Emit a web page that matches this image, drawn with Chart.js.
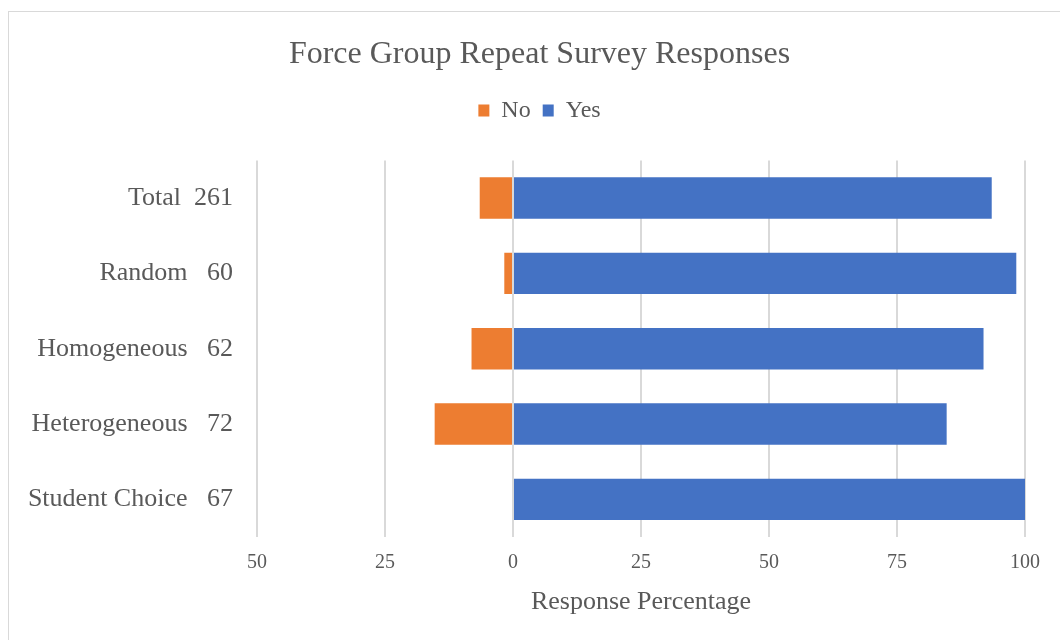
<!DOCTYPE html>
<html>
<head>
<meta charset="utf-8">
<script src="https://cdn.jsdelivr.net/npm/chart.js@4/dist/chart.umd.min.js"></script>
<style>
  html, body { margin: 0; padding: 0; background: #fff; overflow: hidden; }
  #wrap { position: relative; width: 1060px; height: 640px; }
  #frame { position: absolute; left: 8px; top: 11px; width: 1060px; height: 640px; border: 1px solid #d9d9d9; }
  #surveyChart { position: absolute; left: 0; top: 0; }
</style>
</head>
<body>
<div id="wrap">
  <div id="frame"></div>
  <canvas id="surveyChart" width="1060" height="640"></canvas>
</div>
<script>
// groups, group sizes and the gap between name and count
const groups = ['Total', 'Random', 'Homogeneous', 'Heterogeneous', 'Student Choice'];
const counts = [261, 60, 62, 72, 67];
const gaps = ['  ', '   ', '   ', '   ', '   '];

// response percentages (No is plotted to the left of zero)
const noPct = [-6.5, -1.7, -8.1, -15.3, 0];
const yesPct = [93.5, 98.3, 91.9, 84.7, 100];

// x axis ticks
const xTicks = [-50, -25, 0, 25, 50, 75, 100];

const labels = groups.map((g, i) => g + gaps[i] + counts[i]);

const serif = 'Liberation Serif, Times New Roman, serif';
const grey = '#595959';

// push the plot area down below the legend,
// and centre title + legend on the whole frame rather than the padded area
const headerFix = {
    id: 'headerFix',
    beforeInit(chart) {
        const fit = chart.legend.fit;
        chart.legend.fit = function () {
            fit.bind(chart.legend)();
            this.height += 28;
        };
    },
    afterLayout(chart) {
        [chart.titleBlock, chart.legend].forEach(b => {
            b.left += 27;
            b.right += 27;
        });
    }
};

const ctx = document.getElementById('surveyChart').getContext('2d');
const surveyChart = new Chart(ctx, {
    type: 'bar',
    data: {
        labels: labels,
        datasets: [{
            label: 'No',
            data: noPct,
            backgroundColor: '#ED7D31',
            barPercentage: 0.55,
            categoryPercentage: 1
        }, {
            label: 'Yes',
            data: yesPct,
            backgroundColor: '#4472C4',
            barPercentage: 0.55,
            categoryPercentage: 1
        }]
    },
    options: {
        indexAxis: 'y',
        responsive: false,
        animation: false,
        layout: {
            padding: { left: 0, right: 35, top: 0, bottom: 8 }
        },
        plugins: {
            title: {
                display: true,
                text: 'Force Group Repeat Survey Responses',
                color: grey,
                font: { family: serif, size: 32, weight: 'normal' },
                padding: { top: 35, bottom: 13 }
            },
            legend: {
                display: true,
                position: 'top',
                labels: {
                    color: grey,
                    font: { family: serif, size: 24 },
                    boxWidth: 11,
                    boxHeight: 12,
                    padding: 12
                }
            },
            tooltip: { enabled: false }
        },
        scales: {
            x: {
                stacked: true,
                min: -50,
                max: 100,
                afterBuildTicks: (scale) => { scale.ticks = xTicks.map(v => ({ value: v })); },
                afterFit: (scale) => { scale.height = 95; },
                grid: { color: '#d9d9d9', lineWidth: 2, drawTicks: false },
                border: { display: false },
                ticks: {
                    color: grey,
                    font: { family: serif, size: 20 },
                    padding: 14,
                    callback: (v) => Math.abs(v)
                },
                title: {
                    display: true,
                    text: 'Response Percentage',
                    color: grey,
                    font: { family: serif, size: 26 },
                    padding: { top: 0, bottom: 14 }
                }
            },
            y: {
                stacked: true,
                afterFit: (scale) => { scale.width = 257; },
                grid: { display: false, drawTicks: false },
                border: { display: false },
                ticks: {
                    color: grey,
                    font: { family: serif, size: 26 },
                    padding: 24
                }
            }
        }
    },
    plugins: [headerFix]
});
</script>
</body>
</html>
